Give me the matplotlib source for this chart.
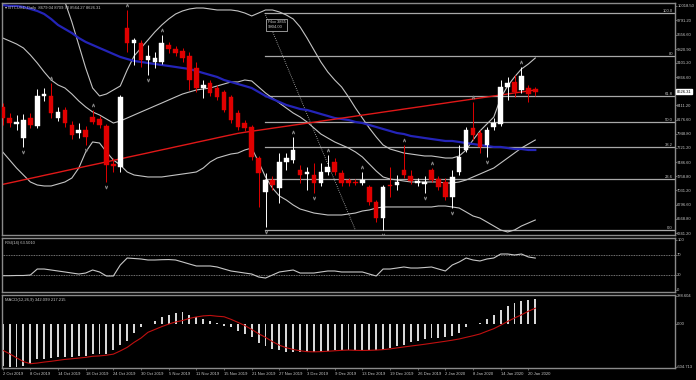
import matplotlib
matplotlib.use("Agg")
import matplotlib.pyplot as plt
import numpy as np

plt.rcParams['font.family'] = ['Liberation Sans', 'DejaVu Sans']

# daily bars (weekdays), 2 Oct 2019 .. 21 Jan 2020
opens = [8382, 8204, 8107, 7880, 8204, 8075, 8560, 8560, 8204, 8334,
         8091, 7961, 8010, 8220, 8188, 8075, 7459, 7410, 9662, 9419,
         9419, 9144, 9112, 9112, 9387, 9322, 9290, 9208, 9014, 8690,
         8771, 8690, 8625, 8544, 8285, 8123, 8058, 7556, 7005, 7199,
         7070, 7491, 7524, 7362, 7297, 7280, 7151, 7329, 7491, 7313,
         7199, 7167, 7151, 7086, 6843, 6584, 7118, 7118, 7361, 7264,
         7151, 7135, 7361, 7215, 7167, 6924, 7329, 7686, 8042, 7961,
         7767, 8058, 8107, 8706, 8787, 8658, 8690, 8679.04]
highs = [8447, 8285, 8253, 8269, 8285, 8674, 8690, 8771, 8382, 8382,
         8156, 8123, 8075, 8334, 8237, 8107, 7556, 8577, 9954, 9500,
         9468, 9387, 9273, 9549, 9435, 9370, 9338, 9273, 9111, 8820,
         8820, 8739, 8658, 8577, 8334, 8172, 8091, 7588, 7313, 7264,
         7637, 7637, 7896, 7443, 7410, 7475, 7475, 7605, 7556, 7361,
         7232, 7215, 7329, 7118, 6876, 7118, 7410, 7280, 7767, 7361,
         7232, 7264, 7394, 7264, 7232, 7361, 7767, 8058, 8463, 8010,
         8058, 8204, 8820, 8868, 8901, 9030, 8739, 8709.70]
lows = [8091, 8058, 8010, 7734, 8042, 8042, 8480, 8204, 8156, 8058,
        7864, 7880, 7767, 8107, 8042, 7167, 7329, 7329, 9273, 9062,
        9030, 8901, 9014, 9079, 9257, 9208, 9112, 8658, 8625, 8528,
        8560, 8496, 8301, 8123, 8010, 7993, 7524, 6762, 6440, 7037,
        6827, 7361, 7475, 7151, 7037, 6989, 7102, 7280, 7280, 7102,
        7102, 7118, 7118, 6794, 6519, 6386, 6924, 7037, 7232, 7135,
        7102, 6989, 7167, 7037, 6876, 6746, 7280, 7653, 7848, 7637,
        7572, 8010, 8075, 8496, 8544, 8609, 8463, 8564.27]
closes = [8204, 8123, 8139, 8172, 8091, 8560, 8590, 8285, 8301, 8123,
          7929, 8010, 7896, 8139, 8091, 7443, 7427, 8544, 9419, 9467,
          9144, 9208, 9176, 9419, 9322, 9257, 9176, 8820, 8690, 8739,
          8609, 8544, 8334, 8172, 8058, 8042, 7572, 7313, 7199, 7118,
          7491, 7556, 7686, 7280, 7329, 7151, 7329, 7410, 7329, 7151,
          7151, 7159, 7199, 6843, 6584, 7086, 7102, 7167, 7280, 7183,
          7183, 7167, 7199, 7086, 6924, 7248, 7572, 8010, 7929, 7734,
          8010, 8123, 8706, 8771, 8625, 8884, 8593, 8626.31]

# Bollinger bands
bb_upper = [11347, 11380, 11412, 11380, 11250, 11056, 10796, 10537, 10310, 10084,
            9760, 9387, 9014, 8690, 8561, 8593, 8658, 8723, 8982, 9209,
            9338, 9468, 9598, 9711, 9808, 9889, 9938, 9970, 9986, 9986,
            9970, 9954, 9954, 9954, 9938, 9905, 9857, 9905, 9954, 9954,
            9922, 9873, 9808, 9679, 9500, 9306, 9112, 8950, 8820, 8707,
            8545, 8366, 8204, 8042, 7897, 7767, 7702, 7670, 7637, 7621,
            7605, 7589, 7589, 7573, 7556, 7556, 7589, 7686, 7848, 7994,
            8107, 8219, 8528, 8723, 8869, 8998, 9079, 9176]
bb_mid = [9500, 9452, 9403, 9338, 9225, 9095, 8950, 8820, 8739, 8690,
          8593, 8480, 8383, 8302, 8253, 8188, 8123, 8156, 8204, 8253,
          8302, 8350, 8399, 8447, 8496, 8545, 8593, 8626, 8658, 8674,
          8690, 8723, 8755, 8788, 8788, 8820, 8804, 8707, 8609, 8528,
          8447, 8366, 8285, 8221, 8140, 8042, 7945, 7880, 7816, 7767,
          7718, 7654, 7573, 7459, 7346, 7249, 7216, 7200, 7184, 7168,
          7168, 7168, 7168, 7168, 7151, 7151, 7168, 7200, 7249, 7297,
          7346, 7394, 7475, 7556, 7637, 7718, 7783, 7848]
bb_lower = [7654, 7524, 7394, 7281, 7168, 7119, 7103, 7103, 7135, 7168,
            7232, 7394, 7654, 7816, 7799, 7654, 7524, 7443, 7330, 7281,
            7265, 7249, 7249, 7249, 7265, 7281, 7297, 7313, 7330, 7394,
            7492, 7556, 7589, 7621, 7637, 7686, 7718, 7492, 7249, 7070,
            6941, 6876, 6795, 6730, 6698, 6665, 6649, 6633, 6633, 6633,
            6649, 6665, 6698, 6714, 6746, 6763, 6763, 6763, 6763, 6763,
            6763, 6763, 6763, 6779, 6779, 6763, 6746, 6682, 6617, 6584,
            6520, 6455, 6390, 6358, 6390, 6455, 6503, 6552]

# moving averages
ma_blue = [10035, 10019, 10019, 10003, 9970, 9938, 9889, 9808, 9711, 9646,
           9581, 9500, 9436, 9387, 9338, 9290, 9241, 9193, 9160, 9128,
           9112, 9095, 9079, 9063, 9047, 9031, 9014, 8998, 8966, 8933,
           8901, 8869, 8820, 8788, 8755, 8723, 8690, 8626, 8561, 8512,
           8464, 8415, 8383, 8350, 8334, 8302, 8269, 8237, 8204, 8188,
           8172, 8140, 8123, 8091, 8059, 8026, 7994, 7961, 7945, 7913,
           7897, 7880, 7864, 7848, 7832, 7832, 7816, 7799, 7783, 7767,
           7751, 7735, 7735, 7718, 7702, 7702, 7686, 7686]
ma_red = [7129, 7153, 7177, 7202, 7226, 7250, 7275, 7299, 7323, 7348,
          7372, 7396, 7421, 7445, 7469, 7494, 7518, 7542, 7567, 7591,
          7615, 7639, 7664, 7688, 7712, 7737, 7761, 7785, 7810, 7834,
          7858, 7883, 7907, 7931, 7955, 7973, 7990, 8006, 8022, 8039,
          8055, 8071, 8088, 8104, 8120, 8136, 8153, 8169, 8185, 8202,
          8218, 8234, 8251, 8267, 8283, 8300, 8316, 8332, 8349, 8365,
          8381, 8397, 8414, 8430, 8446, 8463, 8479, 8495, 8512, 8528,
          8544, 8561, 8577, 8593, 8610, 8626, 8642, 8658]

rsi = [27.9, 27.9, 28.3, 28.3, 29.3, 41.4, 41.4, 39.4, 37.4, 35.4,
       33.3, 31.3, 33.3, 39.4, 35.4, 27.3, 27.3, 49.5, 63.6, 62.6,
       61.6, 59.6, 59.6, 60.2, 60.5, 59.6, 55.6, 51.5, 47.5, 47.5,
       47.5, 45.5, 41.4, 37.4, 35.4, 33.3, 31.3, 25.3, 23.2, 29.3,
       35.4, 37.4, 39.4, 33.3, 33.3, 33.3, 35.4, 37.4, 37.4, 35.4,
       35.4, 35.4, 35.4, 31.3, 27.3, 41.4, 41.4, 43.4, 45.5, 43.4,
       43.4, 44.4, 45.5, 41.4, 37.4, 49.5, 55.6, 63.6, 59.6, 57.6,
       61.6, 63.6, 71.7, 71.7, 69.7, 71.7, 65.7, 63.5]

macd = [-590, -604.7, -600, -592, -559, -499, -499, -476, -467, -467,
        -462, -453, -448, -430, -430, -421, -374, -300, -236, -129,
        -51, -5, 32, 97, 125, 148, 162, 125, 88, 69,
        42, 14, -28, -51, -97, -143, -190, -268, -314, -347,
        -374, -393, -393, -398, -398, -398, -393, -384, -374, -370,
        -365, -374, -374, -365, -374, -365, -337, -314, -291, -259,
        -236, -213, -199, -199, -190, -166, -129, -51, -9, 9,
        69, 116, 194, 254, 296, 325, 335, 342.1]
signal = [-370, -420, -476, -530, -559, -550, -536, -525, -512, -499,
          -490, -480, -470, -455, -450, -440, -425, -380, -330, -260,
          -200, -120, -80, -40, -5, 25, 45, 75, 95, 110,
          116, 105, 98, 62, 20, -25, -80, -140, -190, -250,
          -300, -335, -360, -378, -390, -393, -390, -385, -378, -372,
          -368, -372, -374, -372, -368, -362, -352, -338, -325, -312,
          -300, -287, -273, -259, -245, -230, -213, -190, -168, -143,
          -105, -69, -20, 32, 80, 125, 175, 217.2]

date_labels = ['2 Oct 2019', '8 Oct 2019', '14 Oct 2019', '18 Oct 2019', '24 Oct 2019',
               '30 Oct 2019', '5 Nov 2019', '11 Nov 2019', '15 Nov 2019', '21 Nov 2019',
               '27 Nov 2019', '3 Dec 2019', '9 Dec 2019', '13 Dec 2019', '19 Dec 2019',
               '26 Dec 2019', '2 Jan 2020', '8 Jan 2020', '14 Jan 2020', '20 Jan 2020']
price_ticks = [10018.50, 9791.20, 9556.60, 9320.90, 9101.20, 8866.60, 8411.20, 8176.60,
               7948.80, 7721.20, 7486.60, 7258.80, 7031.20, 6796.60, 6568.80, 6341.20]

fib_high = 9904.0
fib_low = 6386.0
fib_levels = [0.0, 23.6, 38.2, 50.0, 61.8, 80.0, 100.0]
fib_names = ['0.0', '23.6', '38.2', '50.0', '61.8', '80', '100.0']

n = len(closes)
x = np.arange(n)
W, H = 696, 380
fg = '#c8c8c8'
grey = '#8a8a8a'
fs = 3.0


def box(x0, y0, x1, y1):
    return [x0 / W, 1 - y1 / H, (x1 - x0) / W, (y1 - y0) / H]


fig = plt.figure(figsize=(W / 100, H / 100), dpi=100, facecolor='black')
ax = fig.add_axes(box(2, 3, 675, 235))
ax_rsi = fig.add_axes(box(2, 238, 675, 292))
ax_macd = fig.add_axes(box(2, 295, 675, 368))

for a in (ax, ax_rsi, ax_macd):
    a.set_facecolor('black')
    a.set_xlim(-0.1, 97.2)
    for s in a.spines.values():
        s.set_color(grey)
        s.set_linewidth(1.0)
    a.yaxis.tick_right()
    a.tick_params(axis='y', colors=grey, labelcolor=fg, labelsize=fs,
                  length=1.2, width=0.5, pad=0.4)
    a.tick_params(axis='x', bottom=False, labelbottom=False)

# ---- main price panel ----
ax.set_ylim(6309, 10067)

# fibonacci levels
for lvl, name in zip(fib_levels, fib_names):
    p = fib_low + lvl / 100 * (fib_high - fib_low)
    ax.plot([37.9, 97.3], [p, p], color='#a8a8a8', lw=0.9, zorder=1)
    ax.text(0.997, p, name, transform=ax.get_yaxis_transform(), ha='right',
            va='bottom', fontsize=fs, color=fg)
ax.plot([37.9, 51.0], [fib_high, fib_low], color='#c0c0c0', lw=0.6,
        ls=(0, (1, 1.5)), zorder=1)
ax.text(38.3, fib_high - 120, 'Fibo 3865\n9904.00', fontsize=fs, color=fg,
        va='top', ha='left', linespacing=1.3,
        bbox=dict(facecolor='black', edgecolor='#d0d0d0', lw=0.5, pad=1.2))

ax.plot(x, bb_upper, color='#c4c4c4', lw=0.8, zorder=2)
ax.plot(x, bb_mid, color='#c4c4c4', lw=0.8, zorder=2)
ax.plot(x, bb_lower, color='#c4c4c4', lw=0.8, zorder=2)
ax.plot(x, ma_blue, color='#2424b8', lw=1.6, zorder=2)
ax.plot(x, ma_red, color='#e01818', lw=1.0, zorder=2)

for i in range(n):
    o, h, l, c = opens[i], highs[i], lows[i], closes[i]
    col = '#ffffff' if c >= o else '#e00000'
    ax.vlines(i, l, h, color=col, lw=0.7, zorder=3)
    ax.bar(i, max(abs(c - o), 14), bottom=min(o, c), width=0.66,
           color=col, edgecolor=col, lw=0.3, zorder=4)

# fractal arrows
for i in range(2, n - 2):
    if highs[i] > max(highs[i - 2:i] + highs[i + 1:i + 3]):
        ax.plot(i, highs[i] + 80, marker=r'$\wedge$', ms=2.2, mew=0.3,
                color='#8c8c8c', zorder=5)
    if lows[i] < min(lows[i - 2:i] + lows[i + 1:i + 3]):
        ax.plot(i, lows[i] - 80, marker=r'$\vee$', ms=2.2, mew=0.3,
                color='#8c8c8c', zorder=5)

ax.set_yticks(price_ticks)
ax.set_yticklabels(['%.2f' % v for v in price_ticks])
ax.text(1.003, closes[-1], '%.2f' % closes[-1], transform=ax.get_yaxis_transform(),
        ha='left', va='center', fontsize=fs, color='black',
        bbox=dict(facecolor='white', edgecolor='white', pad=0.4))
ax.text(0.004, 0.985, '\u25be BTCUSD,Daily  %.2f %.2f %.2f %.2f'
        % (opens[-1], highs[-1], lows[-1], closes[-1]),
        transform=ax.transAxes, fontsize=fs, color=fg, va='top', ha='left')

# ---- RSI panel ----
ax_rsi.set_ylim(-5, 104)
ax_rsi.axhline(70, color='#9a9a9a', lw=0.6, ls=(0, (1, 1)))
ax_rsi.axhline(30, color='#9a9a9a', lw=0.6, ls=(0, (1, 1)))
ax_rsi.plot(x, rsi, color='#c8c8c8', lw=0.8)
ax_rsi.set_yticks([100, 70, 30, 0])
ax_rsi.set_yticklabels(['100', '70', '30', '0'])
ax_rsi.text(0.004, 0.95, 'RSI(14) %.4f' % 63.501, transform=ax_rsi.transAxes,
            fontsize=fs, color=fg, va='top', ha='left')

# ---- MACD panel ----
ax_macd.set_ylim(-619, 402)
ax_macd.bar(x, macd, width=0.28, color='#d8d8d8', lw=0)
ax_macd.plot(x, signal, color='#c01010', lw=0.8)
ax_macd.set_yticks([388.604, 0, -604.713])
ax_macd.set_yticklabels(['388.604', '0.00', '-604.713'])
ax_macd.text(0.004, 0.96, 'MACD(12,26,9) 342.099 217.215', transform=ax_macd.transAxes,
             fontsize=fs, color=fg, va='top', ha='left')

ax_macd.tick_params(axis='x', bottom=True, labelbottom=True, colors=grey,
                    labelcolor=fg, labelsize=fs, length=1.5, width=0.5, pad=1.5)
ax_macd.set_xticks(list(range(0, 80, 4)))
ax_macd.set_xticklabels(date_labels, ha='left')

fig.savefig('out.png', dpi=100, facecolor='black')
